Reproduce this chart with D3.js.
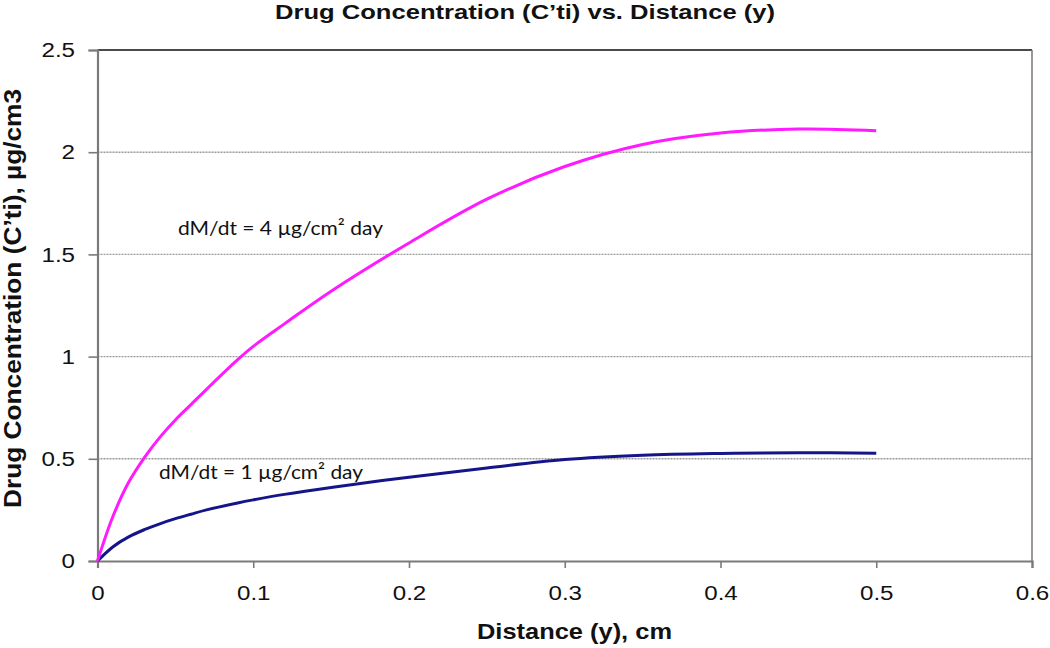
<!DOCTYPE html>
<html><head><meta charset="utf-8">
<script src="https://cdn.jsdelivr.net/npm/d3@7"></script>
<style>body{margin:0;background:#fff}svg{display:block}</style>
</head><body>
<svg id="c" width="1050" height="648"></svg>
<script>
const xTicks = [0, 0.1, 0.2, 0.3, 0.4, 0.5, 0.6];
const yTicks = [0, 0.5, 1, 1.5, 2, 2.5];
const distance = [0, 0.01, 0.02, 0.03, 0.04, 0.05, 0.06, 0.07, 0.09, 0.1, 0.12, 0.15, 0.2, 0.25, 0.3, 0.35, 0.4, 0.45, 0.5];
const conc4 = [0, 0.22, 0.385, 0.505, 0.605, 0.69, 0.765, 0.84, 0.985, 1.05, 1.16, 1.32, 1.556, 1.77, 1.93, 2.038, 2.094, 2.113, 2.105];
const conc1 = [0, 0.07, 0.118, 0.153, 0.182, 0.207, 0.229, 0.25, 0.284, 0.299, 0.326, 0.36, 0.41, 0.455, 0.496, 0.517, 0.526, 0.53, 0.527];
const labels = ["dM/dt = 4 µg/cm² day", "dM/dt = 1 µg/cm² day"];
const title = "Drug Concentration (C’ti) vs. Distance (y)";
const xTitle = "Distance (y), cm";
const yTitle = "Drug Concentration (C’ti), µg/cm3";

const svg = d3.select("#c");
const L = 97.5, R = 1032, T = 50, B = 561;
const x = d3.scaleLinear().domain([0, 0.6]).range([L, R]);
const y = d3.scaleLinear().domain([0, 2.5]).range([B, T]);
const SX = 1.15;

// gridlines
svg.append("g").selectAll("line").data(yTicks.filter(v => v > 0 && v < 2.5)).join("line")
  .attr("x1", L).attr("x2", R).attr("y1", d => y(d)).attr("y2", d => y(d))
  .attr("stroke", "#9a9a9a").attr("stroke-width", 1.4).attr("stroke-dasharray", "2,1");

// border top & right
svg.append("line").attr("x1", L).attr("x2", R).attr("y1", y(2.5)).attr("y2", y(2.5))
  .attr("stroke", "#4a4a4a").attr("stroke-width", 2);
svg.append("line").attr("x1", R).attr("x2", R).attr("y1", T).attr("y2", B)
  .attr("stroke", "#777").attr("stroke-width", 1.5);

// axes
const xAxis = d3.axisBottom(x).tickValues(xTicks).tickFormat(d3.format("")).tickSize(7).tickPadding(17);
const yAxis = d3.axisLeft(y).tickValues(yTicks).tickFormat(d3.format("")).tickSize(9).tickPadding(13.5);
const gx = svg.append("g").attr("transform", `translate(0,${B})`).call(xAxis);
const gy = svg.append("g").attr("transform", `translate(${L},0)`).call(yAxis);
[gx, gy].forEach(g => {
  g.select(".domain").attr("stroke", "#7a7a7a").attr("stroke-width", 2.2);
  g.selectAll(".tick line").attr("stroke", "#7a7a7a").attr("stroke-width", 1.6);
  g.selectAll(".tick text").attr("fill", "#111")
    .style("font-family", "Liberation Sans, Arial, sans-serif").style("font-size", "21px")
    .attr("transform", `scale(${SX},1)`);
});
gy.selectAll(".tick text").attr("x", -22.5 / SX);

// lines
const lineGen = vals => d3.line().x((d, i) => x(distance[i])).y(d => y(d)).curve(d3.curveCatmullRom.alpha(0.5))(vals);
svg.append("path").attr("d", lineGen(conc1)).attr("fill", "none").attr("stroke", "#15158a").attr("stroke-width", 3);
svg.append("path").attr("d", lineGen(conc4)).attr("fill", "none").attr("stroke", "#ff1aff").attr("stroke-width", 3);

// annotations
svg.append("text").attr("x", 178).attr("y", 235).text(labels[0])
  .attr("textLength", 205).attr("lengthAdjust", "spacingAndGlyphs")
  .style("font-family", "Lato, Open Sans, sans-serif").style("font-size", "20px").attr("fill", "#111");
svg.append("text").attr("x", 159).attr("y", 479).text(labels[1])
  .attr("textLength", 204).attr("lengthAdjust", "spacingAndGlyphs")
  .style("font-family", "Lato, Open Sans, sans-serif").style("font-size", "20px").attr("fill", "#111");

// titles
svg.append("text").attr("x", 275).attr("y", 19).text(title)
  .attr("textLength", 500).attr("lengthAdjust", "spacingAndGlyphs")
  .style("font-family", "Liberation Sans, Arial, sans-serif").style("font-weight", "bold").style("font-size", "21px").attr("fill", "#111");
svg.append("text").attr("x", 477).attr("y", 639).text(xTitle)
  .attr("textLength", 195).attr("lengthAdjust", "spacingAndGlyphs")
  .style("font-family", "Liberation Sans, Arial, sans-serif").style("font-weight", "bold").style("font-size", "22px").attr("fill", "#111");
svg.append("text").attr("transform", "translate(21,508) rotate(-90)").text(yTitle)
  .attr("textLength", 419).attr("lengthAdjust", "spacingAndGlyphs")
  .style("font-family", "Liberation Sans, Arial, sans-serif").style("font-weight", "bold").style("font-size", "23px").attr("fill", "#111");
</script>
</body></html>
